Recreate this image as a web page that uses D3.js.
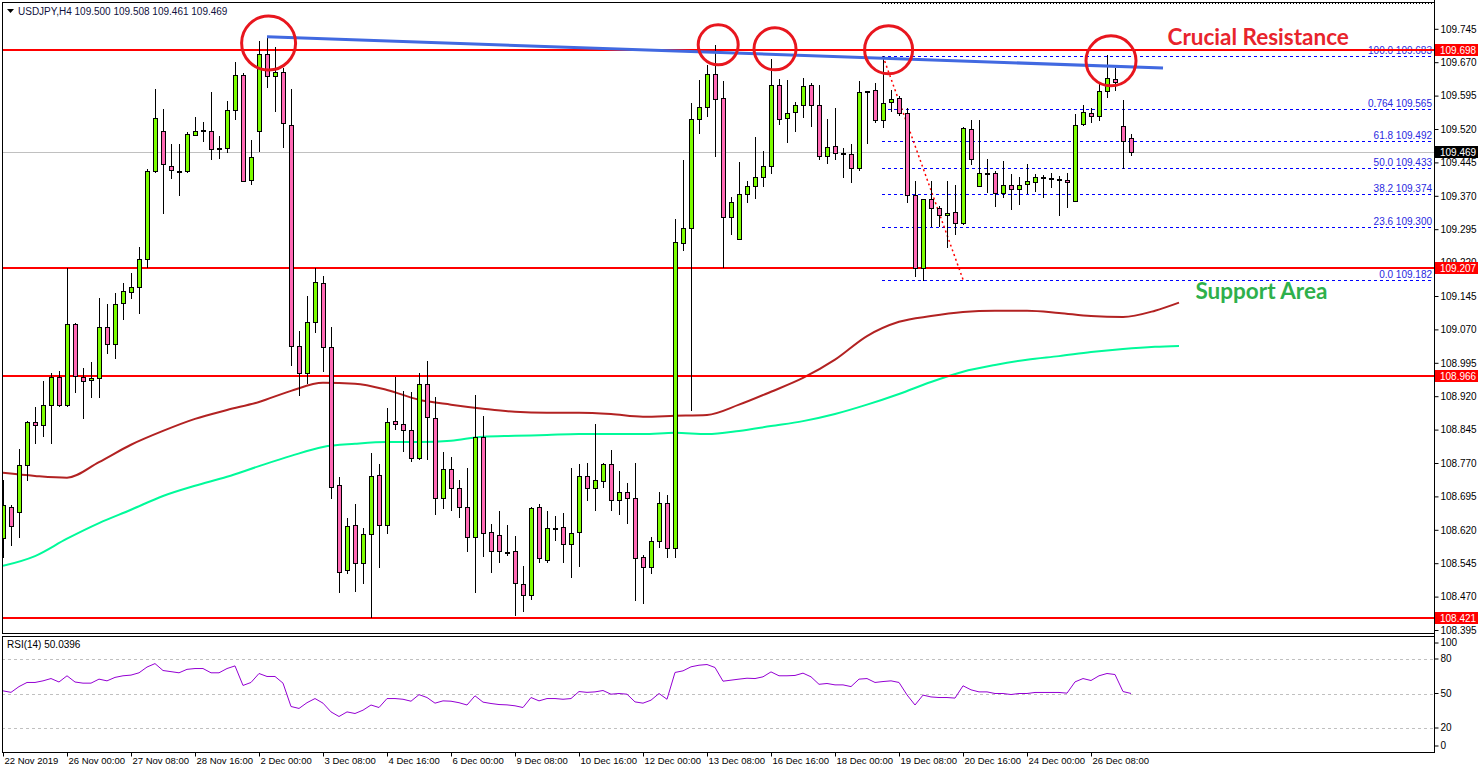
<!DOCTYPE html>
<html>
<head>
<meta charset="utf-8">
<script src="https://cdnjs.cloudflare.com/ajax/libs/d3/7.8.5/d3.min.js"></script>
<style>
  body { margin: 0; background: #fff; }
  svg text { font-family: "Liberation Sans", Arial, sans-serif; }
</style>
</head>
<body>
<div id="chart"></div>
<script>
var timeLabels = ["22 Nov 2019", "26 Nov 00:00", "27 Nov 08:00", "28 Nov 16:00", "2 Dec 00:00",
  "3 Dec 08:00", "4 Dec 16:00", "6 Dec 00:00", "9 Dec 08:00", "10 Dec 16:00", "12 Dec 00:00",
  "13 Dec 08:00", "16 Dec 16:00", "18 Dec 00:00", "19 Dec 08:00", "20 Dec 16:00", "24 Dec 00:00",
  "26 Dec 08:00"];

var openPrices = [108.602,108.671,108.660,108.766,108.862,108.856,108.901,108.963,108.901,109.082,
  108.963,108.957,108.961,109.075,109.038,109.129,109.154,109.165,109.228,109.426,
  109.516,109.437,109.426,109.426,109.507,109.516,109.516,109.477,109.478,109.563,
  109.641,109.406,109.516,109.689,109.639,109.648,109.529,109.033,108.972,109.087,
  109.175,109.031,108.721,108.530,108.631,108.546,108.611,108.743,108.631,108.865,
  108.858,108.844,108.781,108.948,108.871,108.692,108.757,108.714,108.671,108.604,
  108.829,108.615,108.608,108.571,108.573,108.499,108.474,108.671,108.553,108.625,
  108.627,108.588,108.615,108.741,108.714,108.730,108.768,108.687,108.705,108.692,
  108.559,108.537,108.595,108.680,108.579,109.264,109.298,109.543,109.570,109.644,
  109.590,109.323,109.273,109.374,109.392,109.413,109.437,109.619,109.545,109.558,
  109.574,109.619,109.574,109.460,109.482,109.466,109.464,109.433,109.605,109.608,
  109.540,109.581,109.590,109.556,109.372,109.208,109.363,109.343,109.327,109.334,
  109.309,109.520,109.392,109.421,109.421,109.376,109.394,109.385,109.397,109.401,
  109.413,109.411,109.408,109.406,109.359,109.532,109.556,109.549,109.606,109.633,
  109.527,109.500];
var highPrices = [108.732,108.676,108.802,108.864,108.896,108.955,108.972,108.977,109.208,109.084,
  108.984,108.997,109.141,109.127,109.152,109.174,109.197,109.255,109.431,109.610,
  109.565,109.487,109.487,109.514,109.547,109.536,109.603,109.505,109.583,109.671,
  109.646,109.496,109.718,109.727,109.704,109.657,109.610,109.067,109.145,109.208,
  109.190,109.075,108.739,108.647,108.678,108.624,108.793,108.768,108.894,108.963,
  108.932,108.930,108.972,109.000,108.918,108.795,108.784,108.732,108.759,108.923,
  108.876,108.633,108.662,108.631,108.606,108.539,108.671,108.678,108.662,108.651,
  108.658,108.759,108.768,108.770,108.858,108.770,108.799,108.752,108.725,108.770,
  108.564,108.604,108.705,108.699,109.318,109.451,109.579,109.630,109.664,109.709,
  109.628,109.368,109.446,109.403,109.502,109.471,109.677,109.633,109.630,109.581,
  109.635,109.624,109.619,109.543,109.567,109.478,109.487,109.628,109.606,109.624,
  109.683,109.608,109.594,109.567,109.404,109.363,109.404,109.347,109.404,109.394,
  109.525,109.540,109.540,109.453,109.426,109.448,109.419,109.412,109.442,109.419,
  109.417,109.421,109.415,109.421,109.554,109.574,109.567,109.621,109.686,109.657,
  109.585,109.508];
var lowPrices = [108.559,108.586,108.604,108.732,108.815,108.831,108.815,108.899,108.899,108.930,
  108.871,108.918,108.918,109.017,109.006,109.093,109.141,109.107,109.210,109.424,
  109.332,109.410,109.372,109.424,109.506,109.493,109.453,109.455,109.469,109.543,
  109.403,109.397,109.471,109.615,109.561,109.480,108.990,108.923,108.950,109.065,
  108.977,108.692,108.481,108.523,108.483,108.501,108.424,108.537,108.613,108.847,
  108.797,108.775,108.780,108.779,108.656,108.669,108.665,108.649,108.573,108.481,
  108.561,108.526,108.548,108.564,108.429,108.438,108.465,108.548,108.548,108.597,
  108.548,108.514,108.539,108.687,108.665,108.716,108.665,108.656,108.635,108.463,
  108.456,108.523,108.582,108.559,108.559,109.249,108.889,109.511,109.549,109.460,
  109.210,109.284,109.272,109.356,109.365,109.392,109.421,109.532,109.491,109.516,
  109.547,109.527,109.453,109.444,109.453,109.413,109.401,109.428,109.489,109.536,
  109.525,109.561,109.552,109.356,109.190,109.182,109.302,109.302,109.255,109.284,
  109.307,109.442,109.392,109.379,109.347,109.368,109.341,109.352,109.376,109.381,
  109.368,109.390,109.327,109.345,109.358,109.530,109.536,109.540,109.592,109.608,
  109.433,109.461];
var closePrices = [108.676,108.629,108.766,108.862,108.856,108.901,108.963,108.901,109.082,108.966,
  108.955,108.961,109.075,109.038,109.127,109.156,109.165,109.228,109.426,109.545,
  109.442,109.428,109.425,109.509,109.516,109.517,109.475,109.476,109.563,109.641,
  109.404,109.457,109.689,109.639,109.648,109.534,109.033,108.972,109.087,109.177,
  109.031,108.716,108.526,108.629,108.546,108.611,108.741,108.631,108.862,108.858,
  108.844,108.781,108.948,108.874,108.692,108.757,108.714,108.671,108.604,108.829,
  108.613,108.573,108.573,108.570,108.501,108.474,108.669,108.557,108.625,108.624,
  108.588,108.613,108.741,108.714,108.732,108.768,108.687,108.705,108.692,108.557,
  108.537,108.595,108.680,108.579,109.266,109.298,109.543,109.570,109.644,109.588,
  109.323,109.356,109.374,109.392,109.413,109.437,109.619,109.543,109.556,109.574,
  109.617,109.574,109.460,109.480,109.466,109.465,109.433,109.603,109.606,109.540,
  109.579,109.588,109.556,109.372,109.208,109.363,109.343,109.327,109.332,109.309,
  109.523,109.453,109.421,109.420,109.376,109.394,109.385,109.394,109.404,109.413,
  109.412,109.410,109.407,109.401,109.529,109.558,109.549,109.606,109.635,109.626,
  109.493,109.469];

var rsiValues = [52.3,51.0,56.0,59.6,59.6,61.0,63.0,60.0,65.4,60.0,
  59.0,59.0,62.5,61.0,64.0,65.4,66.0,68.0,73.0,76.0,
  70.0,69.0,68.0,71.0,71.7,71.7,68.0,68.0,71.7,74.0,
  57.0,59.6,67.4,64.8,64.8,59.0,38.7,37.0,42.0,45.6,
  41.6,34.0,30.0,34.0,32.6,35.5,40.0,37.8,45.6,45.6,
  45.0,43.3,49.0,46.5,41.6,43.6,43.3,42.0,40.0,48.0,
  42.5,41.3,40.4,40.1,39.3,37.8,46.5,43.6,45.6,45.6,
  45.0,45.6,51.7,51.0,51.4,52.6,49.4,50.0,49.4,42.7,
  41.6,44.2,50.0,45.0,68.3,69.7,73.2,74.6,75.2,72.6,
  60.7,61.6,62.5,63.3,63.0,64.5,68.8,65.4,65.4,65.7,
  67.7,64.5,58.0,58.7,57.5,57.5,56.0,62.5,63.0,59.6,
  60.4,61.0,59.6,48.8,40.0,48.6,47.0,46.5,46.5,46.0,
  56.7,53.2,51.4,51.4,50.0,50.0,49.1,50.0,50.0,50.9,
  50.9,50.9,50.9,50.3,60.1,63.0,61.3,65.4,67.4,66.5,
  51.7,50.04];

// moving averages (read every 4 bars, shifted 6 bars to the right)
var maBars = [0,4,8,12,16,20,24,28,32,36,40,44,48,52,56,60,64,68,72,76,80,84,88,92,96,100,
  104,108,112,116,120,124,128,132,136,140,144,147];
var maSlow = [108.748,108.741,108.737,108.772,108.811,108.842,108.869,108.889,108.907,108.932,
  108.950,108.948,108.934,108.912,108.901,108.892,108.885,108.883,108.883,108.880,108.874,
  108.876,108.878,108.901,108.930,108.961,109.002,109.055,109.087,109.100,109.109,109.112,
  109.112,109.107,109.100,109.098,109.112,109.130];
var maLong = [108.539,108.561,108.600,108.635,108.665,108.696,108.719,108.739,108.763,108.786,
  108.806,108.813,108.817,108.817,108.820,108.829,108.831,108.833,108.835,108.835,108.835,
  108.838,108.835,108.842,108.853,108.864,108.880,108.901,108.925,108.952,108.975,108.990,
  109.002,109.010,109.019,109.026,109.031,109.033];

var priceTicks = [108.395,108.470,108.545,108.620,108.695,108.770,108.845,108.920,108.995,109.070,
  109.145,109.220,109.295,109.370,109.445,109.520,109.595,109.670,109.745];
var levels = [109.698, 109.207, 108.966, 108.421];
var lastPrice = 109.469;
var fibHigh = 109.683, fibLow = 109.182;
var fibNames = ["100.0", "0.764", "61.8", "50.0", "38.2", "23.6", "0.0"];
var fibValues = [109.683, 109.565, 109.492, 109.433, 109.374, 109.300, 109.182];
// red circles: [bar, price, radius]
var circles = [[33.2, 109.713, 27], [89.4, 109.709, 20], [96.5, 109.700, 21], [110.7, 109.698, 24], [138.5, 109.673, 25]];

var width = 1480, height = 773;
var plot = { left: 2, right: 1434, top: 2, bottom: 633 };
var rsiBox = { top: 636, bottom: 752 };

var svg = d3
  .select("#chart")
  .append("svg")
  .attr("width", width)
  .attr("height", height);

var x = d3.scaleLinear().domain([0, 141]).range([3, 1131]);
var y = d3.scaleLinear().domain([108.395, 109.745]).range([630, 28.8]);
var yRsi = d3.scaleLinear().domain([0, 100]).range([751, 636]);

svg.append("clipPath").attr("id", "mainClip")
  .append("rect")
  .attr("x", plot.left + 1).attr("y", plot.top + 1)
  .attr("width", plot.right - plot.left - 1).attr("height", plot.bottom - plot.top - 1);
svg.append("clipPath").attr("id", "rsiClip")
  .append("rect")
  .attr("x", plot.left + 1).attr("y", rsiBox.top + 1)
  .attr("width", plot.right - plot.left - 1).attr("height", rsiBox.bottom - rsiBox.top - 1);

var main = svg.append("g").attr("clip-path", "url(#mainClip)");

// current price line
main.append("line")
  .attr("x1", plot.left).attr("x2", plot.right)
  .attr("y1", Math.round(y(lastPrice)) + 0.5).attr("y2", Math.round(y(lastPrice)) + 0.5)
  .attr("stroke", "#c0c0c0");

// fibonacci
var fibX = x(110) - 1;
main.append("line")
  .attr("x1", fibX).attr("x2", plot.right)
  .attr("y1", 3.5).attr("y2", 3.5)
  .attr("stroke", "#000").attr("stroke-dasharray", "1,2");
main.selectAll(".fib")
  .data(fibValues)
  .enter()
  .append("line")
  .attr("class", "fib")
  .attr("x1", fibX).attr("x2", plot.right)
  .attr("y1", function(d) { return Math.round(y(d)) + 0.5; })
  .attr("y2", function(d) { return Math.round(y(d)) + 0.5; })
  .attr("stroke", "#0000ff")
  .attr("stroke-dasharray", "3,3");
main.selectAll(".fibLabel")
  .data(fibValues)
  .enter()
  .append("text")
  .attr("class", "fibLabel")
  .attr("x", plot.right - 2)
  .attr("y", function(d) { return Math.round(y(d)) - 2; })
  .attr("text-anchor", "end")
  .attr("font-size", "10px")
  .attr("fill", "#2828e0")
  .text(function(d, i) { return fibNames[i] + " " + d.toFixed(3); });
main.append("line")
  .attr("x1", x(110)).attr("y1", y(fibHigh))
  .attr("x2", x(120)).attr("y2", y(fibLow))
  .attr("stroke", "#ff0000").attr("stroke-width", 1.5)
  .attr("stroke-dasharray", "2,3");

// moving averages
var maLine = d3.line()
  .x(function(d, i) { return x(maBars[i]); })
  .y(function(d) { return y(d); })
  .curve(d3.curveMonotoneX);
main.append("path").datum(maSlow)
  .attr("d", maLine).attr("fill", "none")
  .attr("stroke", "#b22222").attr("stroke-width", 2);
main.append("path").datum(maLong)
  .attr("d", maLine).attr("fill", "none")
  .attr("stroke", "#00fa9a").attr("stroke-width", 2);

// support / resistance
main.selectAll(".level")
  .data(levels)
  .enter()
  .append("line")
  .attr("class", "level")
  .attr("x1", plot.left).attr("x2", plot.right)
  .attr("y1", function(d) { return Math.round(y(d)); })
  .attr("y2", function(d) { return Math.round(y(d)); })
  .attr("stroke", "#ff0000").attr("stroke-width", 2);

// candles
var bars = d3.range(openPrices.length);
var candle = main.selectAll(".candle")
  .data(bars)
  .enter()
  .append("g")
  .attr("class", "candle");
candle.append("line")
  .attr("x1", function(d) { return Math.round(x(d)) + 0.5; })
  .attr("x2", function(d) { return Math.round(x(d)) + 0.5; })
  .attr("y1", function(d) { return Math.round(y(highPrices[d])); })
  .attr("y2", function(d) { return Math.round(y(lowPrices[d])) + 1; })
  .attr("stroke", "#000");
candle.append("rect")
  .attr("x", function(d) { return Math.round(x(d)) - 1.5; })
  .attr("y", function(d) { return Math.round(y(Math.max(openPrices[d], closePrices[d]))) + 0.5; })
  .attr("width", 4)
  .attr("height", function(d) {
    return Math.max(1, Math.round(y(Math.min(openPrices[d], closePrices[d]))) - Math.round(y(Math.max(openPrices[d], closePrices[d]))));
  })
  .attr("fill", function(d) { return closePrices[d] >= openPrices[d] ? "#7cfc00" : "#ff69b4"; })
  .attr("stroke", "#000");

// blue trend line
main.append("line")
  .attr("x1", x(33)).attr("y1", y(109.727))
  .attr("x2", x(145)).attr("y2", y(109.657))
  .attr("stroke", "#4169e1").attr("stroke-width", 3);

// circles
main.selectAll(".ring")
  .data(circles)
  .enter()
  .append("circle")
  .attr("class", "ring")
  .attr("cx", function(d) { return x(d[0]); })
  .attr("cy", function(d) { return y(d[1]); })
  .attr("r", function(d) { return d[2]; })
  .attr("fill", "none")
  .attr("stroke", "#e8161e")
  .attr("stroke-width", 3);

main.append("text")
  .attr("x", x(156.9)).attr("y", y(109.727) + 8)
  .attr("text-anchor", "middle")
  .style("font-family", "Lato, 'Open Sans', sans-serif")
  .attr("font-weight", "bold").attr("font-size", "22.5px")
  .attr("fill", "#e8242c")
  .text("Crucial Resistance");
main.append("text")
  .attr("x", x(157.3)).attr("y", y(109.157) + 8)
  .attr("text-anchor", "middle")
  .style("font-family", "Lato, 'Open Sans', sans-serif")
  .attr("font-weight", "bold").attr("font-size", "22.5px")
  .attr("fill", "#2eb04b")
  .text("Support Area");

// header
svg.append("path").attr("d", "M7,9 L14,9 L10.5,13 Z").attr("fill", "#000");
svg.append("text")
  .attr("x", 18).attr("y", 15)
  .attr("font-size", "10px").attr("fill", "#101040")
  .text("USDJPY,H4  109.500 109.508 109.461 109.469");

// RSI panel
var rsi = svg.append("g").attr("clip-path", "url(#rsiClip)");
rsi.selectAll(".rsiLevel")
  .data([80, 50, 20])
  .enter()
  .append("line")
  .attr("x1", plot.left).attr("x2", plot.right)
  .attr("y1", function(d) { return Math.round(yRsi(d)) + 0.5; })
  .attr("y2", function(d) { return Math.round(yRsi(d)) + 0.5; })
  .attr("stroke", "#c0c0c0").attr("stroke-dasharray", "3,3");
rsi.append("path").datum(rsiValues)
  .attr("d", d3.line().x(function(d, i) { return x(i); }).y(function(d) { return yRsi(d); }))
  .attr("fill", "none").attr("stroke", "#9400d3").attr("stroke-width", 1);
svg.append("text")
  .attr("x", 7).attr("y", 648)
  .attr("font-size", "10px").attr("fill", "#000")
  .text("RSI(14) 50.0396");

// frames
svg.append("rect")
  .attr("x", plot.left + 0.5).attr("y", plot.top + 0.5)
  .attr("width", plot.right - plot.left).attr("height", plot.bottom - plot.top)
  .attr("fill", "none").attr("stroke", "#000");
svg.append("rect")
  .attr("x", plot.left + 0.5).attr("y", rsiBox.top + 0.5)
  .attr("width", plot.right - plot.left).attr("height", rsiBox.bottom - rsiBox.top)
  .attr("fill", "none").attr("stroke", "#000");

// price axis
var yAxis = d3.axisRight(y).tickValues(priceTicks).tickFormat(d3.format(".3f")).tickSize(4).tickPadding(2);
var yAxisG = svg.append("g")
  .attr("transform", "translate(" + (plot.right + 0.5) + ",0)")
  .call(yAxis);
yAxisG.select(".domain").remove();
yAxisG.selectAll("text").attr("font-size", "10px").attr("fill", "#000").style("font-family", "Liberation Sans, Arial, sans-serif");

// price tags
var tags = levels.map(function(d) { return { v: d, c: "#ff0000" }; });
tags.push({ v: lastPrice, c: "#000000" });
var tag = svg.selectAll(".tag")
  .data(tags)
  .enter()
  .append("g")
  .attr("class", "tag")
  .attr("transform", function(d) { return "translate(" + (plot.right + 1) + "," + Math.round(y(d.v)) + ")"; });
tag.append("rect")
  .attr("x", 0).attr("y", -6).attr("width", 43).attr("height", 12)
  .attr("fill", function(d) { return d.c; });
tag.append("text")
  .attr("x", 5).attr("y", 4)
  .attr("font-size", "10px").attr("fill", "#fff")
  .text(function(d) { return d.v.toFixed(3); });

// rsi axis
var rsiAxis = d3.axisRight(yRsi).tickValues([100, 80, 50, 20, 0]).tickSize(4).tickPadding(2);
var rsiAxisG = svg.append("g")
  .attr("transform", "translate(" + (plot.right + 0.5) + ",0)")
  .call(rsiAxis);
rsiAxisG.select(".domain").remove();
rsiAxisG.selectAll(".tick")
  .attr("transform", function(d) {
    var p = yRsi(d);
    if (d === 100) p = 643;
    if (d === 0) p = 746;
    return "translate(0," + p + ")";
  });
rsiAxisG.selectAll("text").attr("font-size", "10px").attr("fill", "#000").style("font-family", "Liberation Sans, Arial, sans-serif");

svg.append("line")
  .attr("x1", plot.right + 0.5).attr("x2", plot.right + 0.5)
  .attr("y1", 0).attr("y2", rsiBox.bottom + 1)
  .attr("stroke", "#000");

// time axis
var xAxis = d3.axisBottom(x)
  .tickValues(d3.range(0, timeLabels.length * 8, 8))
  .tickFormat(function(d, i) { return timeLabels[i]; })
  .tickSize(4).tickPadding(1);
var xAxisG = svg.append("g")
  .attr("transform", "translate(0," + (rsiBox.bottom + 0.5) + ")")
  .call(xAxis);
xAxisG.select(".domain").remove();
xAxisG.selectAll("text")
  .attr("text-anchor", "start").attr("dx", "1px")
  .attr("font-size", "9.5px").attr("fill", "#000")
  .style("font-family", "Liberation Sans, Arial, sans-serif");
</script>
</body>
</html>
